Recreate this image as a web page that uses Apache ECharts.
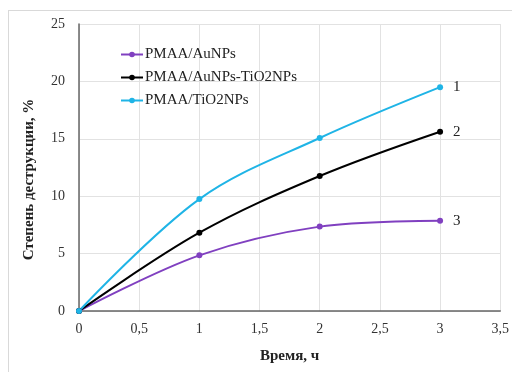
<!DOCTYPE html>
<html lang="ru">
<head>
<meta charset="UTF-8">
<title>Степень деструкции</title>
<script src="https://cdn.jsdelivr.net/npm/echarts@6/dist/echarts.min.js"></script>
<style>
  html, body { margin: 0; padding: 0; background: #fff; }
  #frame { position: absolute; left: 8px; top: 10px; width: 510px; height: 380px; border: 1px solid #d9d9d9; box-sizing: border-box; }
  #chart { position: absolute; left: 0; top: 0; width: 512px; height: 372px; }
</style>
</head>
<body>
<div id="frame"></div>
<div id="chart"></div>
<script>
const time = [0, 1, 2, 3];
const auNPs = [0, 4.85, 7.35, 7.87];
const auTiO2 = [0, 6.82, 11.76, 15.62];
const tiO2 = [0, 9.75, 15.07, 19.5];
const names = ['PMAA/AuNPs', 'PMAA/AuNPs-TiO2NPs', 'PMAA/TiO2NPs'];
const endLabels = ['3', '2', '1'];
const colors = ['#8040c0', '#000000', '#1fb4e6'];

const font = '"Liberation Serif", "Times New Roman", serif';
const values = [auNPs, auTiO2, tiO2];

const chart = echarts.init(document.getElementById('chart'));
chart.setOption({
  animation: false,
  color: colors,
  textStyle: { fontFamily: font },
  grid: { left: 79, right: 9, top: 24, bottom: 61 },
  legend: {
    orient: 'vertical',
    left: 115, top: 42,
    itemGap: 8, itemWidth: 22, itemHeight: 7,
    textStyle: { fontFamily: font, fontSize: 15, color: '#222', padding: [0, 0, 0, -3] },
    data: names
  },
  xAxis: {
    type: 'value', min: 0, max: 3.5, interval: 0.5,
    name: 'Время, ч', nameLocation: 'middle', nameGap: 38,
    nameTextStyle: { fontFamily: font, fontSize: 15, fontWeight: 'bold', color: '#222' },
    axisLine: { lineStyle: { color: '#666', width: 1.5 } },
    axisTick: { show: false },
    axisLabel: { fontSize: 14, color: '#333', margin: 11,
      formatter: v => String(v).replace('.', ',') },
    splitLine: { lineStyle: { color: '#e2e2e2' } }
  },
  yAxis: {
    type: 'value', min: 0, max: 25, interval: 5,
    name: 'Степень деструкции, %', nameLocation: 'middle', nameGap: 42,
    nameTextStyle: { fontFamily: font, fontSize: 15, fontWeight: 'bold', color: '#222', padding: [0, 24, 0, 0] },
    axisLine: { show: true, lineStyle: { color: '#666', width: 1.5 } },
    axisTick: { show: false },
    axisLabel: { fontSize: 14, color: '#333', margin: 14 },
    splitLine: { lineStyle: { color: '#e2e2e2' } }
  },
  series: values.map((vals, i) => ({
    name: names[i],
    type: 'line',
    smooth: 0.35,
    symbol: 'circle',
    symbolSize: 6,
    lineStyle: { width: 2 },
    data: vals.map((v, j) => {
      const p = { value: [time[j], v] };
      if (j === vals.length - 1) {
        p.label = { show: true, position: 'right', distance: 10, formatter: endLabels[i],
          fontFamily: font, fontSize: 15, color: '#222' };
      }
      return p;
    })
  }))
});
</script>
</body>
</html>
